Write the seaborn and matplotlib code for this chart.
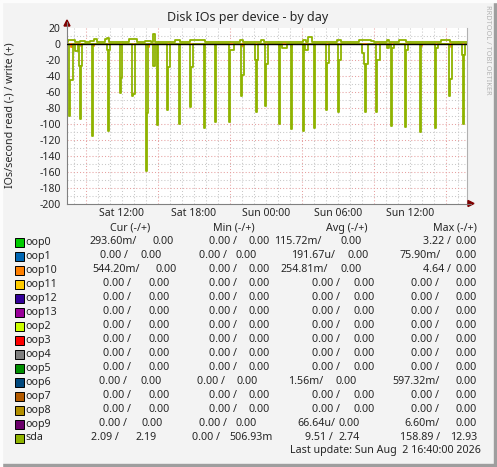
import numpy as np
import pandas as pd
import matplotlib
matplotlib.use("Agg")
import matplotlib.pyplot as plt
from matplotlib.patches import Rectangle, Polygon
from matplotlib.lines import Line2D
import seaborn as sns

DAYS = {"Sat": "2026-08-01", "Sun": "2026-08-02"}


def ts(s):
    d, hm = s.split()
    return pd.Timestamp(DAYS[d] + " " + hm)


# sda reads (drawn on the negative side), short peaks of one 5 min sample
peak_time = ["Sat 07:35", "Sat 08:30", "Sat 09:30", "Sat 10:50", "Sat 11:50", "Sat 12:50",
             "Sat 14:00", "Sat 14:55", "Sat 15:45", "Sat 16:45", "Sat 17:40", "Sat 18:50",
             "Sat 19:45", "Sat 20:55", "Sat 21:55", "Sat 23:10", "Sat 23:55", "Sun 01:05",
             "Sun 02:05", "Sun 03:05", "Sun 04:00", "Sun 05:00", "Sun 06:00", "Sun 08:15",
             "Sun 09:10", "Sun 10:25", "Sun 11:35", "Sun 12:50", "Sun 14:05", "Sun 15:15",
             "Sun 16:25"]
peak_value = [90, 94, 116, 109, 62, 65, 159, 102, 83, 101, 79, 106, 98, 98, 66, 85, 78,
              101, 107, 109, 106, 83, 86, 86, 85, 103, 104, 110, 105, 66, 100]
# sda reads, short plateaus
shelf_start = ["Sat 07:35", "Sat 08:05", "Sat 08:25", "Sat 10:45", "Sat 11:50", "Sat 12:50",
               "Sat 14:00", "Sat 14:35", "Sat 15:45", "Sat 17:40", "Sat 21:00", "Sat 21:55",
               "Sat 23:05", "Sat 23:55", "Sun 01:20", "Sun 03:15", "Sun 05:00", "Sun 06:00",
               "Sun 08:00", "Sun 08:10", "Sun 09:10", "Sun 10:05", "Sun 10:25", "Sun 11:35",
               "Sun 14:05", "Sun 15:15", "Sun 16:20"]
shelf_end = ["Sat 07:55", "Sat 08:20", "Sat 08:40", "Sat 11:00", "Sat 12:00", "Sat 13:05",
             "Sat 14:10", "Sat 14:45", "Sat 16:00", "Sat 17:55", "Sat 21:20", "Sat 22:10",
             "Sat 23:20", "Sun 00:10", "Sun 01:45", "Sun 03:30", "Sun 05:15", "Sun 06:15",
             "Sun 08:10", "Sun 08:30", "Sun 09:30", "Sun 10:15", "Sun 10:40", "Sun 11:50",
             "Sun 14:20", "Sun 15:30", "Sun 16:35"]
shelf_value = [46, 9, 28, 8, 43, 63, 87, 28, 29, 29, 8, 39, 21, 26, 5, 8, 24, 21,
               12, 25, 20, 6, 6, 8, 6, 44, 14]
read_base = 0.3

# sda writes (positive side), level changes
write_time = ["Sat 07:25", "Sat 07:30", "Sat 08:05", "Sat 08:30", "Sat 08:55", "Sat 09:20",
              "Sat 09:40", "Sat 09:55", "Sat 10:35", "Sat 10:45", "Sat 10:55", "Sat 12:35",
              "Sat 13:15", "Sat 13:55", "Sat 14:25", "Sat 14:35", "Sat 14:45", "Sat 16:25",
              "Sat 16:50", "Sat 17:40", "Sat 18:55", "Sat 20:50", "Sat 21:15", "Sat 21:50",
              "Sat 22:05", "Sat 23:35", "Sat 23:50", "Sun 03:05", "Sun 03:20", "Sun 03:30",
              "Sun 03:50", "Sun 05:55", "Sun 06:15", "Sun 07:45", "Sun 08:45", "Sun 09:00",
              "Sun 10:05", "Sun 10:15", "Sun 11:05", "Sun 11:40", "Sun 12:35", "Sun 12:55",
              "Sun 14:35", "Sun 15:20"]
write_value = [1.6, 5, 2, 3, 2.5, 3, 6, 2, 6, 7.5, 2, 6, 2, 3, 2, 12, 2, 4, 2, 5, 2, 1.5,
               2, 4, 2, 4, 2, 4, 2, 8, 2, 4, 2, 5, 3, 2.5, 5, 2.5, 5, 2.5, 1.5, 2, 5, 2.5]

# oop10 reads, small blips
oop10_time = ["Sat 07:45", "Sat 08:35", "Sat 09:35", "Sat 14:10", "Sat 22:00", "Sun 01:05",
              "Sun 02:05", "Sun 12:55", "Sun 15:25"]
oop10_value = [4, 3.5, 3, 4.6, 3.5, 3.5, 4, 3.5, 4]

t_start, t_last, t_end = "Sat 07:25", "Sun 16:40", "Sun 16:45"
tick_times = ["Sat 12:00", "Sat 18:00", "Sun 00:00", "Sun 06:00", "Sun 12:00"]
tick_labels = ["Sat 12:00", "Sat 18:00", "Sun 00:00", "Sun 06:00", "Sun 12:00"]

# legend table
names = ["oop0", "oop1", "oop10", "oop11", "oop12", "oop13", "oop2", "oop3", "oop4",
         "oop5", "oop6", "oop7", "oop8", "oop9", "sda"]
colors = ["#00CC00", "#0066B3", "#FF8000", "#FFCC00", "#330099", "#990099", "#CCFF00",
          "#FF0000", "#808080", "#008F00", "#00487D", "#B35A00", "#B38F00", "#6B006B",
          "#8FB300"]
Z = "0.00"
cur_read = ["293.60m", Z, "544.20m", Z, Z, Z, Z, Z, Z, Z, Z, Z, Z, Z, "2.09"]
cur_write = [Z] * 14 + ["2.19"]
min_read = [Z] * 15
min_write = [Z] * 14 + ["506.93m"]
avg_read = ["115.72m", "191.67u", "254.81m", Z, Z, Z, Z, Z, Z, Z, "1.56m", Z, Z, "66.64u", "9.51"]
avg_write = [Z] * 14 + ["2.74"]
max_read = ["3.22", "75.90m", "4.64", Z, Z, Z, Z, Z, Z, Z, "597.32m", Z, Z, "6.60m", "158.89"]
max_write = [Z] * 14 + ["12.93"]

# ---------------------------------------------------------------
W, H = 497, 467
plt.rcParams["axes.unicode_minus"] = False
sns.set_style("white")
plt.rcParams["font.family"] = ["Noto Sans", "DejaVu Sans"]

fig = plt.figure(figsize=(W / 100, H / 100), dpi=100, facecolor="#f3f3f3")


def fx(x):
    return x / W


def fy(y):
    return 1 - y / H


X0, X1, YT, YB = 67, 467, 27.5, 203.5
ax = fig.add_axes([fx(X0), fy(YB), (X1 - X0) / W, (YB - YT) / H])
ax.set_facecolor("white")

grid_t = pd.date_range(ts(t_start), ts(t_last), freq="5min")
read = pd.Series(read_base, index=grid_t)
for s, e, v in zip(shelf_start, shelf_end, shelf_value):
    read[(grid_t >= ts(s)) & (grid_t < ts(e))] = v
for t, v in zip(peak_time, peak_value):
    read[ts(t)] = v
df_read = pd.DataFrame({"time": list(grid_t) + [ts(t_end)],
                        "value": -np.r_[read.values, read_base]})

df_write = pd.DataFrame({"time": [ts(t) for t in write_time] + [ts(t_end)],
                         "value": write_value + [write_value[-1]]})

oop10 = pd.Series(0.0, index=grid_t)
for t, v in zip(oop10_time, oop10_value):
    oop10[ts(t)] = v
df_oop10 = pd.DataFrame({"time": list(grid_t) + [ts(t_end)],
                         "value": -np.r_[oop10.values, 0]})

# grid
minor_c, major_c = "#c8c8c8", "#e6a0a0"
dots = (0, (1, 2))
for h in pd.date_range(ts("Sat 08:00"), ts("Sun 16:00"), freq="1h"):
    major = h.hour % 6 == 3
    ax.axvline(h, color=major_c if major else minor_c, lw=0.75, ls=dots, zorder=0)
for v in range(-190, 20, 10):
    if v == 0:
        continue
    ax.axhline(v, color=major_c if v % 20 == 0 else minor_c, lw=0.75, ls=dots, zorder=0)

kw = dict(x="time", y="value", drawstyle="steps-post", sort=False, estimator=None,
          lw=1.3, ax=ax, legend=False)
sns.lineplot(data=df_oop10, color=colors[2], **kw)
sns.lineplot(data=df_read, color=colors[-1], **kw)
ax.axhline(0, color="black", lw=1.0, zorder=3)
sns.lineplot(data=df_write, color=colors[-1], **kw)

ax.set_xlim(ts(t_start), ts(t_end))
ax.set_ylim(-200, 20)
ax.set_xlabel("")
ax.set_ylabel("")
ax.set_xticks([ts(t) for t in tick_times])
ax.set_xticklabels(tick_labels, fontsize=7.5)
ax.set_yticks(range(-200, 21, 20))
ax.set_yticklabels([str(v) for v in range(-200, 21, 20)], fontsize=7.5)
ax.tick_params(axis="x", length=0, pad=3.5)
ax.tick_params(axis="y", length=2, width=0.7, color="#808080", pad=2.5)
ax.spines["top"].set_visible(False)
ax.spines["right"].set_color("#b0b0b0")
ax.spines["right"].set_linewidth(0.8)
for s in ["left", "bottom"]:
    ax.spines[s].set_color("#808080")
    ax.spines[s].set_linewidth(0.8)

# axis arrows
fig.add_artist(Line2D([fx(X0), fx(X0)], [fy(YT), fy(22)], color="#808080", lw=0.8))
fig.add_artist(Line2D([fx(X1), fx(471)], [fy(YB), fy(YB)], color="#808080", lw=0.8))
fig.add_artist(Polygon([(fx(64), fy(26)), (fx(70), fy(26)), (fx(67), fy(20))],
                       closed=True, color="#7f0000", transform=fig.transFigure))
fig.add_artist(Polygon([(fx(468), fy(YB - 3)), (fx(468), fy(YB + 3)), (fx(474), fy(YB))],
                       closed=True, color="#7f0000", transform=fig.transFigure))

fig.text(fx(248), fy(17), "Disk IOs per device - by day", ha="center", va="center", fontsize=9)
fig.text(fx(10), fy(115), "IOs/second read (-) / write (+)", ha="center", va="center",
         rotation=90, fontsize=7.7)
fig.text(fx(488), fy(5), "RRDTOOL / TOBI OETIKER", ha="center", va="top", rotation=270,
         fontsize=5.3, color="#b4b4b4")

# legend
fs = 7.7
for lbl, cx in zip(["Cur (-/+)", "Min (-/+)", "Avg (-/+)", "Max (-/+)"], [130, 234, 347, 455]):
    fig.text(fx(cx), fy(228), lbl, ha="center", va="center", fontsize=fs)

cols = [131, 170, 237, 270, 340, 375, 439, 477]
row_cols = {
    "oop0": [137, 174, 237, 270, 322, 362, 451, 477],
    "oop1": [128, 162, 227, 257, 335, 369, 441, 477],
    "oop10": [140, 177, 237, 270, 328, 362, 451, 477],
    "oop6": [127, 162, 225, 258, 323, 357, 440, 477],
    "oop9": [127, 163, 227, 257, 335, 360, 440, 477],
    "sda": [119, 157, 220, 273, 333, 360, 440, 477],
}


def fmt_read(v):
    return v + "/" if v[-1].isalpha() else v + " /"


for i, name in enumerate(names):
    y = 242 + 14 * i
    fig.add_artist(Rectangle((fx(15), fy(y + 4.5)), 9 / W, 9 / H, facecolor=colors[i],
                             edgecolor="black", lw=0.7, transform=fig.transFigure))
    fig.text(fx(25), fy(y), name, ha="left", va="center", fontsize=fs)
    vals = [fmt_read(cur_read[i]), cur_write[i], fmt_read(min_read[i]), min_write[i],
            fmt_read(avg_read[i]), avg_write[i], fmt_read(max_read[i]), max_write[i]]
    for v, cx in zip(vals, row_cols.get(name, cols)):
        fig.text(fx(cx), fy(y), v, ha="right", va="center", fontsize=fs)

fig.text(fx(481), fy(451), "Last update: Sun Aug  2 16:40:00 2026", ha="right", va="center",
         fontsize=fs)

# frame shading
fig.add_artist(Rectangle((0, 0), 1, 3 / H, color="#9e9e9e", transform=fig.transFigure))
fig.add_artist(Rectangle((1 - 3 / W, 0), 3 / W, 1, color="#9e9e9e", transform=fig.transFigure))
fig.add_artist(Rectangle((0, 0), 2 / W, 1, color="#fcfcfc", transform=fig.transFigure))
fig.add_artist(Rectangle((0, 1 - 2 / H), 1, 2 / H, color="#fcfcfc", transform=fig.transFigure))

fig.savefig("out.png", dpi=100, facecolor=fig.get_facecolor())
